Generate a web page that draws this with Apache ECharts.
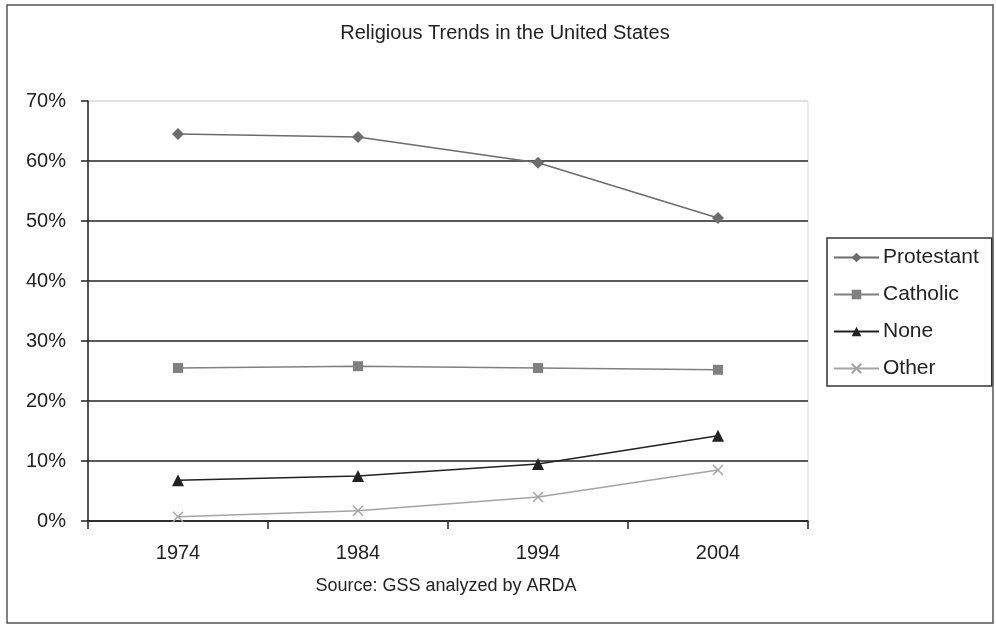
<!DOCTYPE html>
<html>
<head>
<meta charset="utf-8">
<script src="https://cdn.jsdelivr.net/npm/echarts@6/dist/echarts.min.js"></script>
<style>
  html, body { margin: 0; padding: 0; background: #fff; }
  #chart { width: 996px; height: 626px; }
</style>
</head>
<body>
<div id="chart"></div>
<script>
// years on the x axis
const years = ['1974', '1984', '1994', '2004'];
// shares in percent
const protestant = [64.5, 64.0, 59.7, 50.5];
const catholic = [25.5, 25.8, 25.5, 25.2];
const none = [6.8, 7.5, 9.5, 14.2];
const other = [0.7, 1.7, 4.0, 8.5];

const chart = echarts.init(document.getElementById('chart'));
const font = 'Liberation Sans, Arial, sans-serif';

function line(name, data, color, symbol, size, extra) {
  return Object.assign({
    name: name,
    type: 'line',
    data: data,
    symbol: symbol,
    symbolSize: size,
    color: color,
    lineStyle: { color: color, width: 1.5 },
    itemStyle: { color: color },
    animation: false
  }, extra || {});
}

chart.setOption({
  backgroundColor: '#fff',
  graphic: [
    { type: 'rect', shape: { x: 7, y: 5, width: 986, height: 618 },
      style: { fill: 'none', stroke: '#555', lineWidth: 1.5 }, z: -1 },
    { type: 'rect', shape: { x: 88, y: 101, width: 720, height: 420 },
      style: { fill: 'none', stroke: '#ddd', lineWidth: 1 }, z: -1 },
    // title and source note, placed by their centre
    { type: 'text', x: 505, y: 33,
      style: { text: 'Religious Trends in the United States', font: '20px Liberation Sans', fill: '#222',
               textAlign: 'center', textVerticalAlign: 'middle' } },
    { type: 'text', x: 446, y: 586,
      style: { text: 'Source: GSS analyzed by ARDA', font: '18px Liberation Sans', fill: '#222',
               textAlign: 'center', textVerticalAlign: 'middle' } }
  ],
  legend: {
    orient: 'vertical',
    left: 827,
    top: 238,
    itemWidth: 45,
    itemHeight: 12,
    itemGap: 16,
    padding: [9, 13, 7, 6],
    borderColor: '#333',
    borderWidth: 1.5,
    textStyle: { fontFamily: font, fontSize: 21, color: '#222', padding: [0, 0, 0, -1] },
    data: ['Protestant', 'Catholic', 'None', 'Other']
  },
  grid: { left: 88, top: 101, width: 720, height: 420 },
  xAxis: {
    type: 'category',
    data: years,
    boundaryGap: true,
    axisLine: { lineStyle: { color: '#222', width: 1.5 } },
    axisTick: { show: true, length: 8, lineStyle: { color: '#222', width: 1.5 } },
    axisLabel: { fontFamily: font, fontSize: 20, color: '#222', margin: 22 }
  },
  yAxis: {
    type: 'value',
    min: 0,
    max: 70,
    interval: 10,
    axisLine: { show: true, lineStyle: { color: '#222', width: 1.5 } },
    axisTick: { show: true, length: 7, lineStyle: { color: '#222', width: 1.5 } },
    axisLabel: { fontFamily: font, fontSize: 20, color: '#222', margin: 22, formatter: '{value}%' },
    splitLine: {
      show: true,
      lineStyle: { color: ['#222', '#222', '#222', '#222', '#222', '#222', '#222', '#ddd'], width: 1.5 }
    }
  },
  series: [
    line('Protestant', protestant, '#6c6c6c', 'diamond', 12),
    line('Catholic', catholic, '#808080', 'rect', 10),
    line('None', none, '#222222', 'triangle', 12),
    line('Other', other, '#a4a4a4', 'path://M0,0L10,10M10,0L0,10', 10, {
      itemStyle: { color: 'none', borderColor: '#a4a4a4', borderWidth: 1.5 }
    })
  ]
});
</script>
</body>
</html>
